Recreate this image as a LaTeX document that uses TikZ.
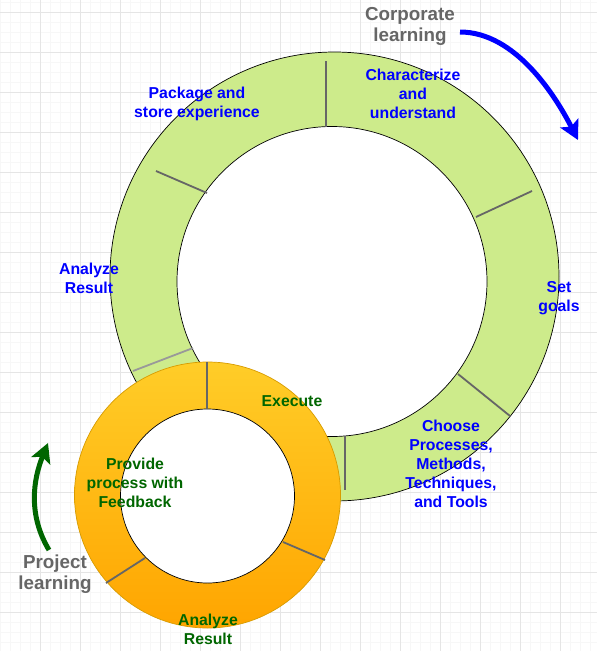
\documentclass[tikz,border=0pt]{standalone}
\usepackage{fontspec}
\setmainfont{Liberation Sans}
\usetikzlibrary{arrows.meta}
\definecolor{ringgreen}{HTML}{CDEB8B}
\definecolor{ringtop}{HTML}{FFCD28}
\definecolor{ringbot}{HTML}{FFA500}
\definecolor{ringedge}{HTML}{D79B00}
\definecolor{stepblue}{HTML}{0000FF}
\definecolor{stepgreen}{HTML}{006600}
\definecolor{titlegray}{HTML}{666666}

\begin{document}
\begin{tikzpicture}[x=1pt,y=-1pt,
  minorgrid/.style={draw=black!3,line width=0.6pt},
  majorgrid/.style={draw=black!10,line width=0.8pt},
  divider/.style={draw=#1,line width=1.8pt},
  lbl/.style={text=#1,font=\fontsize{15.8}{19}\selectfont\bfseries,align=center,inner sep=0pt},
  title/.style={text=titlegray,font=\fontsize{18.8}{21.5}\selectfont\bfseries,align=center,inner sep=0pt},
  flow/.style={draw=#1,line width=5pt,-{Stealth[length=19pt,width=20pt,inset=4pt]}}]
\useasboundingbox (0,0) rectangle (597,651);
\fill[white] (0,0) rectangle (597,651);
% grid
\foreach \x in {0,10,...,590} {
   \draw[minorgrid] (\x,0) -- (\x,651);
}
\foreach \y in {2,12,...,650} {
   \draw[minorgrid] (0,\y) -- (597,\y);
}
\foreach \x in {40,80,...,560} {
   \draw[majorgrid] (\x,0) -- (\x,651);
}
\foreach \y in {12,52,...,640} {
   \draw[majorgrid] (0,\y) -- (597,\y);
}
% corporate ring
\filldraw[fill=ringgreen,draw=black,line width=0.7pt] (334.5,276.5) circle[radius=224.5pt];
\filldraw[fill=white,draw=black,line width=0.7pt] (332,281.5) circle[radius=155pt];
\foreach \a/\b/\c/\d in %
{326/61/326/127,476/217/532/191,458/374/510/416,345/436/345/490,156/171/207/193} {
   \draw[divider=black!60] (\a,\b) -- (\c,\d);
}
\draw[divider=black!40] (133,371) -- (193,348);
% project ring
\shade[top color=ringtop,bottom color=ringbot] (207.5,495) circle[radius=133pt];
\draw[ringedge,line width=0.7pt] (207.5,495) circle[radius=133pt];
\filldraw[fill=white,draw=black,line width=0.7pt] (207.5,496) circle[radius=87pt];
\foreach \a/\b/\c/\d in %
{207/362/207/409,283/542/325/560,106/583/145/558} {
   \draw[divider=black!60] (\a,\b) -- (\c,\d);
}
% labels
\node[lbl=stepblue] (package) at (197,103.5) {Package and\\store experience};
\node[lbl=stepblue] (charact) at (413,94) {Characterize\\and\\understand};
\node[lbl=stepblue] (goals) at (559,298) {Set\\goals};
\node[lbl=stepblue] (choose) at (451,463.5) {Choose\\Processes,\\Methods,\\Techniques,\\and Tools};
\node[lbl=stepblue] (analyzeC) at (89,278) {Analyze\\Result};
\node[lbl=stepgreen] (execute) at (292,401) {Execute};
\node[lbl=stepgreen] (feedback) at (135,483) {Provide\\process with\\Feedback};
\node[lbl=stepgreen] (analyzeP) at (208,629.5) {Analyze\\Result};
\node[title] (corp) at (410,26.5) {Corporate\\learning};
\node[title] (proj) at (55,574) {Project\\learning};
% direction arrows
\coordinate (corpFrom) at (460,32);
\coordinate (corpTo) at (578,140);
\coordinate (projFrom) at (49,550);
\coordinate (projTo) at (48,443);
\draw[flow=stepblue] (corpFrom) .. controls (515,32) and (555,95) .. (corpTo);
\draw[flow=stepgreen] (projFrom) .. controls (28,515) and (33,480) .. (projTo);
\end{tikzpicture}
\end{document}
